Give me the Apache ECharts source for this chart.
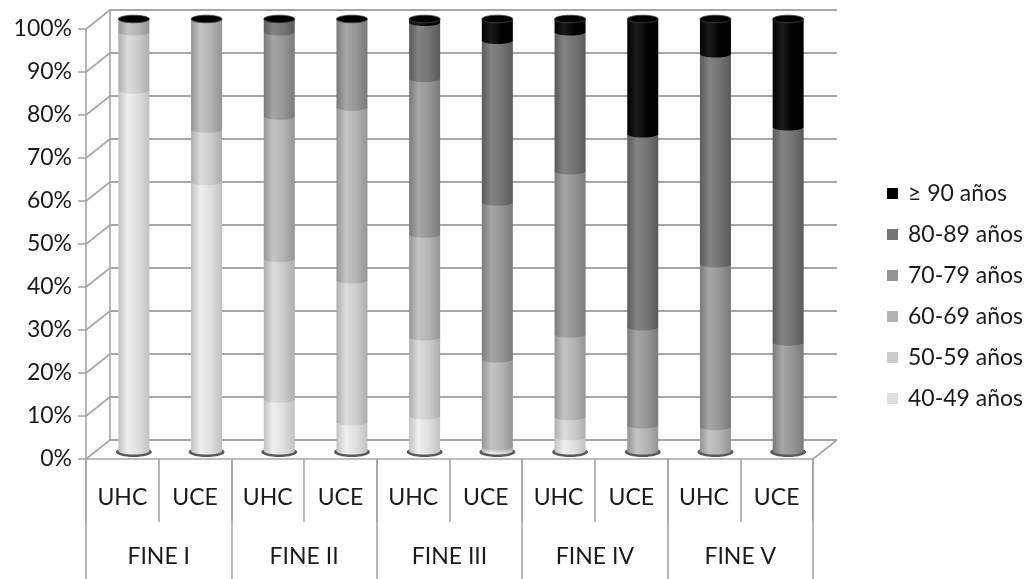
<!DOCTYPE html>
<html>
<head>
<meta charset="utf-8">
<script src="https://cdn.jsdelivr.net/npm/echarts@6/dist/echarts.min.js"></script>
<style>
html,body{margin:0;padding:0;background:#fff;}
#chart{width:1026px;height:579px;}
</style>
</head>
<body>
<div id="chart"></div>
<script>
// ---- data ----
const categories = ['UHC','UCE','UHC','UCE','UHC','UCE','UHC','UCE','UHC','UCE'];
const groups = ['FINE I','FINE II','FINE III','FINE IV','FINE V'];
const seriesNames = ['40-49 años','50-59 años','60-69 años','70-79 años','80-89 años','≥ 90 años'];
const s40_49 = [83.5, 62.3, 12.0, 6.7, 8.1, 0.5, 3.3, 0, 0, 0];
const s50_59 = [13.5, 12.2, 32.5, 32.9, 18.3, 0.5, 4.6, 0, 0, 0];
const s60_69 = [3.0, 25.5, 33.0, 40.0, 23.8, 20.3, 19.1, 6.0, 5.6, 0];
const s70_79 = [0, 0, 19.5, 20.4, 36.0, 36.3, 37.8, 22.7, 37.7, 25.2];
const s80_89 = [0, 0, 3.0, 0, 13.0, 37.4, 32.2, 44.7, 48.6, 49.8];
const s90 = [0, 0, 0, 0, 0.8, 5.0, 3.0, 26.6, 8.1, 25.0];
const yTickValues = [0,10,20,30,40,50,60,70,80,90,100];
const yTickLabels = ['0%','10%','20%','30%','40%','50%','60%','70%','80%','90%','100%'];

// ---- styles ----
const FONT = 'Lato';
const FS = 23;
const TXT = '#1a1a1a';
const LINE = '#a6a6a6';
const shades = [
  {base:'#dedede', edge:'#c2c2c2', hi:'#efefef'},
  {base:'#cbcbcb', edge:'#adadad', hi:'#dcdcdc'},
  {base:'#b3b3b3', edge:'#949494', hi:'#c4c4c4'},
  {base:'#959595', edge:'#7a7a7a', hi:'#a6a6a6'},
  {base:'#737373', edge:'#5a5a5a', hi:'#838383'},
  {base:'#000000', edge:'#000000', hi:'#1c1c1c'}
];
const seriesValues = [s40_49, s50_59, s60_69, s70_79, s80_89, s90];

function grad(sh){
  return new echarts.graphic.LinearGradient(0,0,1,0,[
    {offset:0, color:sh.edge},{offset:0.3, color:sh.hi},{offset:0.65, color:sh.base},{offset:1, color:sh.edge}
  ]);
}

// cumulative stacks built from the arrays
const stacked = [];
const cum = categories.map(()=>0);
seriesValues.forEach((arr, k) => {
  stacked.push(arr.map((v, i) => { const s = cum[i]; cum[i] += v; return [i, s, cum[i]]; }));
});

const BAR_W = 31;
function makeRender(k){
  const sh = shades[k];
  return function(params, api){
    const i = api.value(0), s = api.value(1), e = api.value(2);
    const pTop = api.coord([i, e]);
    const pBot = api.coord([i, s]);
    const cx = pTop[0];
    const children = [];
    if (k === 0) {
      children.push({type:'ellipse', shape:{cx:cx, cy:pBot[1]+1, rx:BAR_W/2+2.5, ry:5}, style:{fill:'#5a5a5a'}});
    }
    if (e - s > 0.05) {
      children.push({type:'ellipse', shape:{cx:cx, cy:pBot[1], rx:BAR_W/2, ry:3.5}, style:{fill:grad(sh)}});
      children.push({type:'rect', shape:{x:cx-BAR_W/2, y:pTop[1], width:BAR_W, height:pBot[1]-pTop[1]}, style:{fill:grad(sh)}});
    }
    if (k === seriesValues.length - 1) {
      children.push({type:'ellipse', shape:{cx:cx, cy:pTop[1], rx:BAR_W/2, ry:3.8}, style:{fill:'#000', stroke:'#444', lineWidth:0.8}});
    }
    return {type:'group', children:children};
  };
}

const barSeries = seriesNames.map((name, k) => ({
  name: name,
  type: 'custom',
  xAxisIndex: 3, yAxisIndex: 2,
  itemStyle: {color: shades[k].base},
  data: stacked[k],
  renderItem: makeRender(k),
  z: 5 + k
}));

// side wall / floor diagonals
const wallData = yTickValues.map(v => [0, v]).concat([[1, 0]]);
const wallSeries = {
  type:'custom', xAxisIndex:2, yAxisIndex:1, silent:true, z:1,
  data: wallData,
  renderItem: function(params, api){
    const p = api.coord([api.value(0), api.value(1)]);
    return {type:'line', shape:{x1:p[0], y1:p[1], x2:p[0]-24, y2:p[1]+19}, style:{stroke:LINE, lineWidth:1.6}};
  }
};

const chart = echarts.init(document.getElementById('chart'), null, {renderer:'canvas'});
chart.setOption({
  animation:false,
  backgroundColor:'#fff',
  textStyle:{fontFamily:FONT},
  legend:{
    orient:'vertical', left:882, top:177, itemWidth:11, itemHeight:11, itemGap:18,
    icon:'rect',
    data: seriesNames.slice().reverse(),
    textStyle:{fontFamily:FONT, fontSize:FS, color:TXT, lineHeight:23, padding:[0,0,0,5]}
  },
  grid:[
    {left:86, right:213, top:29, height:430},
    {left:110, right:189, top:10, height:430},
    {left:97.5, right:201.5, top:19, height:432}
  ],
  xAxis:[
    {gridIndex:0, type:'category', data:categories,
     axisLine:{show:true, lineStyle:{color:LINE, width:1.6}},
     axisTick:{show:true, interval:0, length:63, lineStyle:{color:LINE, width:1.6}},
     axisLabel:{interval:0, margin:27, fontSize:FS, color:TXT, fontFamily:FONT},
     splitLine:{show:false}},
    {gridIndex:0, type:'category', data:groups, position:'bottom',
     axisLine:{show:false},
     axisTick:{show:true, interval:0, length:125, lineStyle:{color:LINE, width:1.6}},
     axisLabel:{interval:0, margin:86, fontSize:FS, color:TXT, fontFamily:FONT},
     splitLine:{show:false}},
    {gridIndex:1, type:'value', min:0, max:1, show:false},
    {gridIndex:2, type:'category', data:categories, show:false}
  ],
  yAxis:[
    {gridIndex:0, type:'value', min:0, max:100, interval:10,
     axisLine:{show:true, lineStyle:{color:LINE, width:1.6}},
     axisTick:{show:true, length:8, lineStyle:{color:LINE, width:1.6}},
     axisLabel:{margin:14, fontSize:FS, color:TXT, fontFamily:FONT,
       formatter:function(v){ return yTickLabels[yTickValues.indexOf(v)]; }},
     splitLine:{show:false}},
    {gridIndex:1, type:'value', min:0, max:100, interval:10,
     axisLine:{show:true, lineStyle:{color:LINE, width:1.6}},
     axisTick:{show:false}, axisLabel:{show:false},
     splitLine:{show:true, lineStyle:{color:LINE, width:2}}},
    {gridIndex:2, type:'value', min:0, max:100, show:false}
  ],
  series:[wallSeries].concat(barSeries)
});
</script>
</body>
</html>
